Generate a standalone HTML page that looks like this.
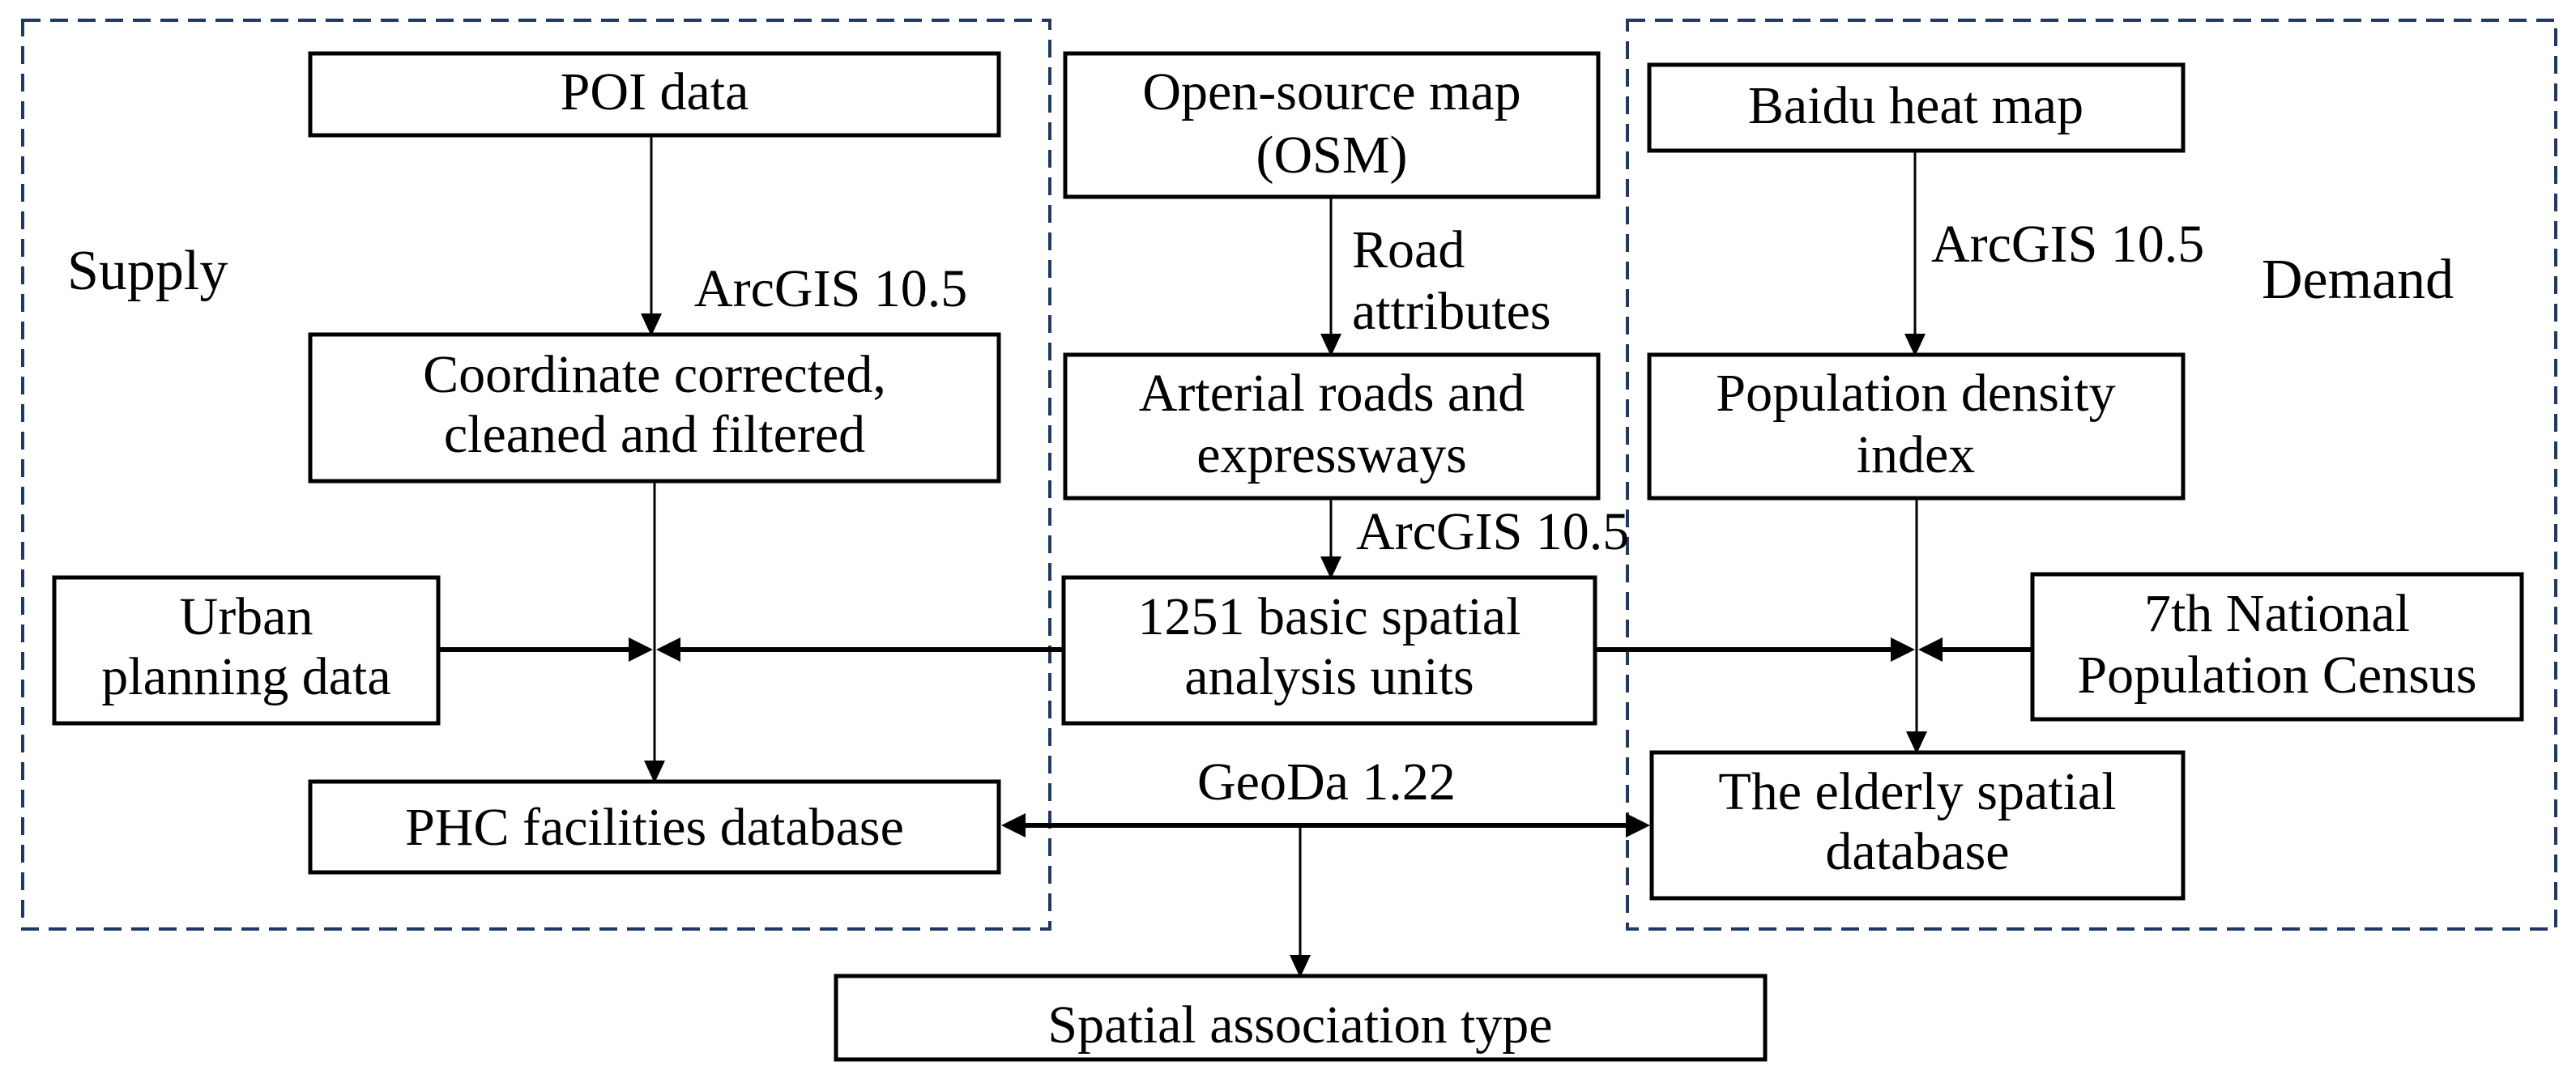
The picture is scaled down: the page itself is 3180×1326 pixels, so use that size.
<!DOCTYPE html>
<html><head><meta charset="utf-8"><style>
html,body{margin:0;padding:0;background:#fff;}
svg{display:block;}
text{font-family:"Liberation Serif",serif;font-size:66px;fill:#000;}
</style></head><body>
<svg width="3180" height="1326" viewBox="0 0 3180 1326" xmlns="http://www.w3.org/2000/svg">
<defs>
<marker id="a" viewBox="0 0 10 10" refX="10" refY="5" markerWidth="10" markerHeight="10" markerUnits="userSpaceOnUse" orient="auto"><path d="M0,0 L10,5 L0,10 z" fill="#000"/></marker>
</defs>
<g fill="none" stroke="#1f3864" stroke-width="4" stroke-dasharray="22 12">
<rect x="28" y="25" width="1268" height="1122"/>
<rect x="2009" y="25" width="1146" height="1122"/>
</g>
<g fill="#fff" stroke="#000" stroke-width="5">
<rect x="383" y="66" width="850" height="101"/>
<rect x="383" y="413" width="850" height="181"/>
<rect x="1315" y="66" width="658" height="177"/>
<rect x="1315" y="438" width="658" height="177"/>
<rect x="2036" y="80" width="659" height="106"/>
<rect x="2036" y="438" width="659" height="177"/>
<rect x="67" y="713" width="474" height="180"/>
<rect x="1313" y="713" width="656" height="180"/>
<rect x="2509" y="709" width="604" height="179"/>
<rect x="383" y="965" width="850" height="112"/>
<rect x="2039" y="929" width="656" height="180"/>
<rect x="1032" y="1205" width="1147" height="103"/>
</g>
<g stroke="#000" stroke-width="3" fill="none">
<line x1="804" y1="167" x2="804" y2="413" marker-end="url(#a)" style="--m:0"/>
<line x1="808" y1="594" x2="808" y2="965"/>
<line x1="1643" y1="243" x2="1643" y2="438"/>
<line x1="1643" y1="615" x2="1643" y2="713"/>
<line x1="2364" y1="186" x2="2364" y2="438"/>
<line x1="2366" y1="615" x2="2366" y2="929"/>
<line x1="1605" y1="1019" x2="1605" y2="1205"/>
</g>
<g stroke="#000" stroke-width="6">
<line x1="541" y1="802" x2="790" y2="802"/>
<line x1="1313" y1="802" x2="826" y2="802"/>
<line x1="1969" y1="802" x2="2348" y2="802"/>
<line x1="2509" y1="802" x2="2384" y2="802"/>
<line x1="1255" y1="1019" x2="2017" y2="1019"/>
</g>
<g fill="#000">
<!-- vertical down arrows -->
<path d="M791,387 L817,387 L804,415 z"/>
<path d="M795,939 L821,939 L808,967 z"/>
<path d="M1630,412 L1656,412 L1643,440 z"/>
<path d="M1630,687 L1656,687 L1643,715 z"/>
<path d="M2351,412 L2377,412 L2364,440 z"/>
<path d="M2353,903 L2379,903 L2366,931 z"/>
<path d="M1592,1179 L1618,1179 L1605,1207 z"/>
<!-- horizontal arrows -->
<path d="M776,787 L806,802 L776,817 z"/>
<path d="M840,787 L810,802 L840,817 z"/>
<path d="M2334,787 L2364,802 L2334,817 z"/>
<path d="M2398,787 L2368,802 L2398,817 z"/>
<path d="M1266,1004 L1236,1019 L1266,1034 z"/>
<path d="M2007,1004 L2037,1019 L2007,1034 z"/>
</g>
<g text-anchor="middle">
<text x="808" y="135">POI data</text>
<text x="808" y="484">Coordinate corrected,</text>
<text x="808" y="558">cleaned and filtered</text>
<text x="1644" y="135">Open-source map</text>
<text x="1644" y="213">(OSM)</text>
<text x="1644" y="507">Arterial roads and</text>
<text x="1644" y="583">expressways</text>
<text x="2365" y="152">Baidu heat map</text>
<text x="2365" y="507">Population density</text>
<text x="2365" y="583">index</text>
<text x="304" y="783">Urban</text>
<text x="304" y="857">planning data</text>
<text x="1641" y="783">1251 basic spatial</text>
<text x="1641" y="857">analysis units</text>
<text x="2811" y="779">7th National</text>
<text x="2811" y="855">Population Census</text>
<text x="808" y="1043">PHC facilities database</text>
<text x="2367" y="999">The elderly spatial</text>
<text x="2367" y="1073">database</text>
<text x="1605" y="1287">Spatial association type</text>
</g>
<text x="83" y="357" style="font-size:70px">Supply</text>
<text x="2792" y="368" style="font-size:70px">Demand</text>
<text x="857" y="378">ArcGIS 10.5</text>
<text x="1669" y="330">Road</text>
<text x="1669" y="406">attributes</text>
<text x="1674" y="678">ArcGIS 10.5</text>
<text x="2384" y="323">ArcGIS 10.5</text>
<text x="1478" y="987">GeoDa 1.22</text>
</svg>
</body></html>
